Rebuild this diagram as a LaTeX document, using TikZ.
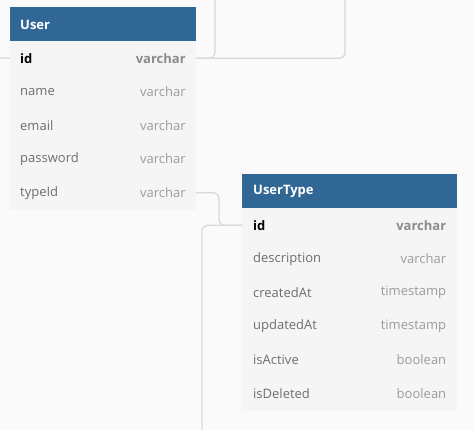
\documentclass[tikz,border=0pt]{standalone}
\usepackage{fontspec}
\setmainfont{Open Sans}
\usetikzlibrary{positioning,calc}
\definecolor{bgcol}{HTML}{FAFAFA}
\definecolor{rowcol}{HTML}{F5F5F5}
\definecolor{headcol}{HTML}{316795}
\definecolor{linkcol}{HTML}{D9D9D9}
\definecolor{namecol}{HTML}{6E6E6E}
\definecolor{typecol}{HTML}{9B9B9B}
\newcommand{\rowfont}{\fontsize{13}{15}\selectfont}

\begin{document}
\begin{tikzpicture}[x=1pt,y=-1pt,
  tblrow/.style={fill=rowcol,anchor=north west,inner sep=0,minimum height=34.2pt},
  tblhead/.style={tblrow,fill=headcol,minimum height=34.6pt},
  headtext/.style={font=\rowfont\bfseries,text=white,inner sep=0,anchor=west},
  fieldname/.style={font=\rowfont,text=namecol,inner sep=0,anchor=west},
  fieldtype/.style={font=\rowfont,text=typecol,inner sep=0,anchor=east},
  link/.style={draw=linkcol,line width=1.3pt,rounded corners=6pt}]
 \fill[bgcol] (0,0) rectangle (473,430); %背景
 \useasboundingbox (0,0) rectangle (473,430);

 % User
 \node[tblhead,minimum width=185.5pt] (user) at (10,7) {};
 \node[headtext] at ([xshift=10pt]user.west) {User};
 \node[tblrow,minimum width=185.5pt] (user-id) at (10,41) {};
 \node[fieldname,text=black,font=\rowfont\bfseries] at ([xshift=10pt]user-id.west) {id};
 \node[fieldtype,text=typecol!90!black,font=\rowfont\bfseries] at ([xshift=-10pt]user-id.east) {varchar};
 \foreach [count=\i] \f/\t in {name/varchar,email/varchar,password/varchar,typeId/varchar}{
   \node[tblrow,minimum width=185.5pt] (user-\f) at (10,41+33.6*\i) {};
   \node[fieldname] at ([xshift=10pt]user-\f.west) {\f};
   \node[fieldtype] at ([xshift=-10pt]user-\f.east) {\t};
 }

 % UserType
 \node[tblhead,minimum width=215pt] (type) at (242,174) {};
 \node[headtext] at ([xshift=11pt]type.west) {UserType};
 \node[tblrow,minimum width=215pt] (type-id) at (242,208) {};
 \node[fieldname,text=black,font=\rowfont\bfseries] at ([xshift=11pt]type-id.west) {id};
 \node[fieldtype,text=typecol!90!black,font=\rowfont\bfseries] at ([xshift=-11pt]type-id.east) {varchar};
 \foreach [count=\i] \f/\t in {description/varchar,createdAt/timestamp,updatedAt/timestamp,isActive/boolean,isDeleted/boolean}{
   \node[tblrow,minimum width=215pt] (type-\f) at (242,208+33.67*\i) {};
   \node[fieldname] at ([xshift=11pt]type-\f.west) {\f};
   \node[fieldtype] at ([xshift=-11pt]type-\f.east) {\t};
 }

 % 関係線
 \coordinate (top-a) at (215,0);
 \coordinate (top-b) at (345,0);
 \coordinate (left-a) at (0,57.8);
 \coordinate (bottom-a) at (202,430);
 \draw[link] (user-id.east) -| (top-a);
 \draw[link] (user-id.east) -| (top-b);
 \draw[link] (left-a) -- (user-id.west);
 \draw[link] (user-typeId.east) -| ($(user-typeId.east)!0.5!(type-id.west)$) |- (type-id.west);
 \draw[link] (type-id.west) -| (bottom-a);
\end{tikzpicture}
\end{document}
